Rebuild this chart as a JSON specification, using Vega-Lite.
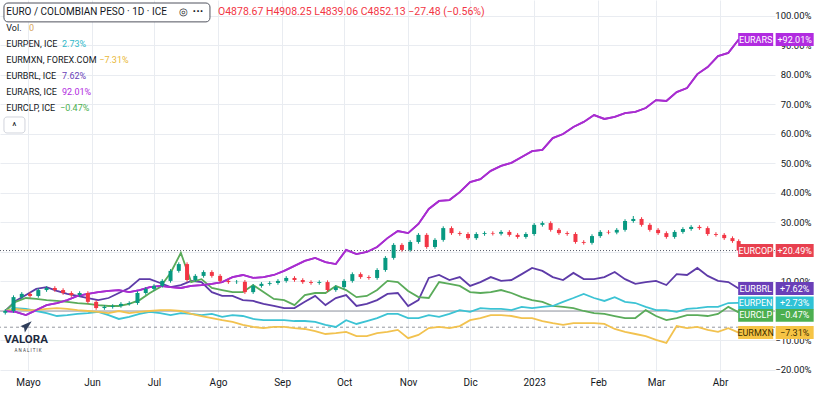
{
"$schema":"https://vega.github.io/schema/vega-lite/v6.json",
"width":775,"height":372,"autosize":{"type":"none"},"padding":{"left":0,"top":0,"right":42,"bottom":27},"background":"white",
"config":{"view":{"stroke":null},"font":"Roboto","axis":{"labelOverlap":false,"labelSeparation":0,"labelBound":false}},
"datasets":{
"ars":[{"d":"2022-04-20","v":0},{"d":"2022-04-25","v":-0.3},{"d":"2022-04-30","v":-1.4},{"d":"2022-05-05","v":0.3},{"d":"2022-05-10","v":2.0},{"d":"2022-05-15","v":2.7},{"d":"2022-05-20","v":3.7},{"d":"2022-05-25","v":5.1},{"d":"2022-05-30","v":5.8},{"d":"2022-06-04","v":6.4},{"d":"2022-06-09","v":6.8},{"d":"2022-06-14","v":7.1},{"d":"2022-06-19","v":6.4},{"d":"2022-06-24","v":7.1},{"d":"2022-06-29","v":8.1},{"d":"2022-07-04","v":8.5},{"d":"2022-07-09","v":8.1},{"d":"2022-07-14","v":7.8},{"d":"2022-07-19","v":8.5},{"d":"2022-07-24","v":8.8},{"d":"2022-07-29","v":9.2},{"d":"2022-08-03","v":9.8},{"d":"2022-08-08","v":11.5},{"d":"2022-08-13","v":12.2},{"d":"2022-08-18","v":11.2},{"d":"2022-08-23","v":11.5},{"d":"2022-08-28","v":12.2},{"d":"2022-09-02","v":13.6},{"d":"2022-09-07","v":15.3},{"d":"2022-09-12","v":17.0},{"d":"2022-09-17","v":18.0},{"d":"2022-09-22","v":16.6},{"d":"2022-09-27","v":15.9},{"d":"2022-10-02","v":20.7},{"d":"2022-10-07","v":19.3},{"d":"2022-10-12","v":20.0},{"d":"2022-10-17","v":21.7},{"d":"2022-10-22","v":24.7},{"d":"2022-10-27","v":27.1},{"d":"2022-11-01","v":26.4},{"d":"2022-11-06","v":29.5},{"d":"2022-11-11","v":34.6},{"d":"2022-11-16","v":37.3},{"d":"2022-11-21","v":37.6},{"d":"2022-11-26","v":40.3},{"d":"2022-12-01","v":43.7},{"d":"2022-12-06","v":44.7},{"d":"2022-12-11","v":47.5},{"d":"2022-12-16","v":49.2},{"d":"2022-12-21","v":50.2},{"d":"2022-12-26","v":52.2},{"d":"2022-12-31","v":54.2},{"d":"2023-01-05","v":54.6},{"d":"2023-01-10","v":58.6},{"d":"2023-01-15","v":60.0},{"d":"2023-01-20","v":62.4},{"d":"2023-01-25","v":64.1},{"d":"2023-01-30","v":66.4},{"d":"2023-02-04","v":65.1},{"d":"2023-02-09","v":65.8},{"d":"2023-02-14","v":67.1},{"d":"2023-02-19","v":67.5},{"d":"2023-02-24","v":68.8},{"d":"2023-03-01","v":71.5},{"d":"2023-03-06","v":71.2},{"d":"2023-03-11","v":74.2},{"d":"2023-03-16","v":75.6},{"d":"2023-03-21","v":80.3},{"d":"2023-03-26","v":82.7},{"d":"2023-03-31","v":86.4},{"d":"2023-04-05","v":87.5},{"d":"2023-04-10","v":92.01}],
"brl":[{"d":"2022-04-20","v":0},{"d":"2022-04-25","v":3.4},{"d":"2022-04-30","v":5.4},{"d":"2022-05-05","v":7.5},{"d":"2022-05-10","v":8.1},{"d":"2022-05-15","v":6.8},{"d":"2022-05-20","v":5.8},{"d":"2022-05-25","v":5.1},{"d":"2022-05-30","v":4.4},{"d":"2022-06-04","v":3.7},{"d":"2022-06-09","v":4.4},{"d":"2022-06-14","v":6.1},{"d":"2022-06-19","v":7.8},{"d":"2022-06-24","v":10.8},{"d":"2022-06-29","v":10.8},{"d":"2022-07-04","v":9.5},{"d":"2022-07-09","v":8.1},{"d":"2022-07-14","v":8.8},{"d":"2022-07-19","v":10.2},{"d":"2022-07-24","v":9.8},{"d":"2022-07-29","v":6.4},{"d":"2022-08-03","v":5.1},{"d":"2022-08-08","v":5.1},{"d":"2022-08-13","v":3.7},{"d":"2022-08-18","v":3.4},{"d":"2022-08-23","v":2.4},{"d":"2022-08-28","v":1.7},{"d":"2022-09-02","v":1.0},{"d":"2022-09-07","v":1.0},{"d":"2022-09-12","v":3.1},{"d":"2022-09-17","v":5.1},{"d":"2022-09-22","v":2.0},{"d":"2022-09-27","v":4.4},{"d":"2022-10-02","v":5.4},{"d":"2022-10-07","v":1.7},{"d":"2022-10-12","v":2.4},{"d":"2022-10-17","v":3.7},{"d":"2022-10-22","v":5.8},{"d":"2022-10-27","v":6.1},{"d":"2022-11-01","v":1.7},{"d":"2022-11-06","v":3.7},{"d":"2022-11-11","v":11.2},{"d":"2022-11-16","v":12.2},{"d":"2022-11-21","v":10.5},{"d":"2022-11-26","v":11.5},{"d":"2022-12-01","v":8.5},{"d":"2022-12-06","v":9.8},{"d":"2022-12-11","v":11.5},{"d":"2022-12-16","v":10.2},{"d":"2022-12-21","v":10.5},{"d":"2022-12-26","v":12.5},{"d":"2022-12-31","v":14.6},{"d":"2023-01-05","v":13.6},{"d":"2023-01-10","v":11.5},{"d":"2023-01-15","v":10.5},{"d":"2023-01-20","v":12.9},{"d":"2023-01-25","v":10.8},{"d":"2023-01-30","v":10.8},{"d":"2023-02-04","v":11.5},{"d":"2023-02-09","v":13.2},{"d":"2023-02-14","v":10.8},{"d":"2023-02-19","v":9.2},{"d":"2023-02-24","v":9.8},{"d":"2023-03-01","v":10.2},{"d":"2023-03-06","v":8.8},{"d":"2023-03-11","v":12.5},{"d":"2023-03-16","v":12.2},{"d":"2023-03-21","v":14.6},{"d":"2023-03-26","v":11.9},{"d":"2023-03-31","v":10.2},{"d":"2023-04-05","v":9.8},{"d":"2023-04-10","v":7.62}],
"clp":[{"d":"2022-04-20","v":0},{"d":"2022-04-25","v":3.1},{"d":"2022-04-30","v":4.4},{"d":"2022-05-05","v":4.1},{"d":"2022-05-10","v":3.7},{"d":"2022-05-15","v":3.4},{"d":"2022-05-20","v":3.1},{"d":"2022-05-25","v":2.7},{"d":"2022-05-30","v":2.4},{"d":"2022-06-04","v":2.0},{"d":"2022-06-09","v":1.7},{"d":"2022-06-14","v":1.7},{"d":"2022-06-19","v":2.4},{"d":"2022-06-24","v":3.7},{"d":"2022-06-29","v":6.1},{"d":"2022-07-04","v":8.1},{"d":"2022-07-09","v":12.9},{"d":"2022-07-14","v":19.7},{"d":"2022-07-19","v":9.8},{"d":"2022-07-24","v":10.8},{"d":"2022-07-29","v":7.8},{"d":"2022-08-03","v":7.1},{"d":"2022-08-08","v":6.4},{"d":"2022-08-13","v":6.4},{"d":"2022-08-18","v":8.8},{"d":"2022-08-23","v":6.4},{"d":"2022-08-28","v":4.1},{"d":"2022-09-02","v":3.7},{"d":"2022-09-07","v":2.0},{"d":"2022-09-12","v":5.4},{"d":"2022-09-17","v":6.1},{"d":"2022-09-22","v":6.1},{"d":"2022-09-27","v":8.5},{"d":"2022-10-02","v":7.1},{"d":"2022-10-07","v":4.7},{"d":"2022-10-12","v":5.1},{"d":"2022-10-17","v":7.1},{"d":"2022-10-22","v":10.2},{"d":"2022-10-27","v":9.8},{"d":"2022-11-01","v":6.8},{"d":"2022-11-06","v":4.7},{"d":"2022-11-11","v":4.4},{"d":"2022-11-16","v":9.8},{"d":"2022-11-21","v":9.2},{"d":"2022-11-26","v":8.5},{"d":"2022-12-01","v":6.4},{"d":"2022-12-06","v":6.1},{"d":"2022-12-11","v":6.4},{"d":"2022-12-16","v":7.1},{"d":"2022-12-21","v":6.1},{"d":"2022-12-26","v":4.7},{"d":"2022-12-31","v":3.7},{"d":"2023-01-05","v":3.1},{"d":"2023-01-10","v":1.7},{"d":"2023-01-15","v":1.4},{"d":"2023-01-20","v":1.0},{"d":"2023-01-25","v":0},{"d":"2023-01-30","v":-0.7},{"d":"2023-02-04","v":-1.0},{"d":"2023-02-09","v":-1.7},{"d":"2023-02-14","v":-2.4},{"d":"2023-02-19","v":-2.4},{"d":"2023-02-24","v":0.3},{"d":"2023-03-01","v":-1.7},{"d":"2023-03-06","v":-3.1},{"d":"2023-03-11","v":-2.4},{"d":"2023-03-16","v":-1.4},{"d":"2023-03-21","v":-1.4},{"d":"2023-03-26","v":-1.7},{"d":"2023-03-31","v":-1.0},{"d":"2023-04-05","v":1.4},{"d":"2023-04-10","v":-0.47}],
"pen":[{"d":"2022-04-20","v":0},{"d":"2022-04-25","v":1.0},{"d":"2022-04-30","v":0.7},{"d":"2022-05-05","v":0},{"d":"2022-05-10","v":-0.7},{"d":"2022-05-15","v":-1.7},{"d":"2022-05-20","v":-1.4},{"d":"2022-05-25","v":-1.0},{"d":"2022-05-30","v":-0.7},{"d":"2022-06-04","v":-0.3},{"d":"2022-06-09","v":-1.4},{"d":"2022-06-14","v":-2.7},{"d":"2022-06-19","v":-2.0},{"d":"2022-06-24","v":-1.0},{"d":"2022-06-29","v":-0.3},{"d":"2022-07-04","v":-0.7},{"d":"2022-07-09","v":-1.4},{"d":"2022-07-14","v":-0.7},{"d":"2022-07-19","v":-1.0},{"d":"2022-07-24","v":-1.4},{"d":"2022-07-29","v":-1.0},{"d":"2022-08-03","v":-2.0},{"d":"2022-08-08","v":-1.4},{"d":"2022-08-13","v":-1.7},{"d":"2022-08-18","v":-2.7},{"d":"2022-08-23","v":-3.1},{"d":"2022-08-28","v":-3.1},{"d":"2022-09-02","v":-3.1},{"d":"2022-09-07","v":-3.4},{"d":"2022-09-12","v":-3.4},{"d":"2022-09-17","v":-3.7},{"d":"2022-09-22","v":-4.7},{"d":"2022-09-27","v":-5.4},{"d":"2022-10-02","v":-3.1},{"d":"2022-10-07","v":-4.4},{"d":"2022-10-12","v":-3.4},{"d":"2022-10-17","v":-2.4},{"d":"2022-10-22","v":-1.0},{"d":"2022-10-27","v":-1.0},{"d":"2022-11-01","v":-2.4},{"d":"2022-11-06","v":-2.4},{"d":"2022-11-11","v":-1.4},{"d":"2022-11-16","v":-2.0},{"d":"2022-11-21","v":-1.0},{"d":"2022-11-26","v":0.3},{"d":"2022-12-01","v":-0.3},{"d":"2022-12-06","v":1.0},{"d":"2022-12-11","v":0.7},{"d":"2022-12-16","v":0.7},{"d":"2022-12-21","v":0.3},{"d":"2022-12-26","v":1.4},{"d":"2022-12-31","v":1.0},{"d":"2023-01-05","v":1.4},{"d":"2023-01-10","v":1.7},{"d":"2023-01-15","v":3.1},{"d":"2023-01-20","v":4.4},{"d":"2023-01-25","v":5.8},{"d":"2023-01-30","v":4.4},{"d":"2023-02-04","v":3.4},{"d":"2023-02-09","v":4.7},{"d":"2023-02-14","v":3.1},{"d":"2023-02-19","v":2.7},{"d":"2023-02-24","v":1.4},{"d":"2023-03-01","v":0.3},{"d":"2023-03-06","v":0.3},{"d":"2023-03-11","v":-0.3},{"d":"2023-03-16","v":0.7},{"d":"2023-03-21","v":1.0},{"d":"2023-03-26","v":1.4},{"d":"2023-03-31","v":1.4},{"d":"2023-04-05","v":2.7},{"d":"2023-04-10","v":2.73}],
"mxn":[{"d":"2022-04-20","v":0},{"d":"2022-04-25","v":0.7},{"d":"2022-04-30","v":0.3},{"d":"2022-05-05","v":0.3},{"d":"2022-05-10","v":0.7},{"d":"2022-05-15","v":1.0},{"d":"2022-05-20","v":0.7},{"d":"2022-05-25","v":0.3},{"d":"2022-05-30","v":0},{"d":"2022-06-04","v":-0.3},{"d":"2022-06-09","v":-0.7},{"d":"2022-06-14","v":0},{"d":"2022-06-19","v":-0.7},{"d":"2022-06-24","v":-0.3},{"d":"2022-06-29","v":0},{"d":"2022-07-04","v":0.3},{"d":"2022-07-09","v":0.3},{"d":"2022-07-14","v":0},{"d":"2022-07-19","v":-1.0},{"d":"2022-07-24","v":-1.7},{"d":"2022-07-29","v":-2.4},{"d":"2022-08-03","v":-3.1},{"d":"2022-08-08","v":-3.7},{"d":"2022-08-13","v":-4.7},{"d":"2022-08-18","v":-5.4},{"d":"2022-08-23","v":-5.8},{"d":"2022-08-28","v":-5.4},{"d":"2022-09-02","v":-5.4},{"d":"2022-09-07","v":-5.8},{"d":"2022-09-12","v":-6.1},{"d":"2022-09-17","v":-6.8},{"d":"2022-09-22","v":-7.8},{"d":"2022-09-27","v":-7.5},{"d":"2022-10-02","v":-7.1},{"d":"2022-10-07","v":-8.5},{"d":"2022-10-12","v":-8.5},{"d":"2022-10-17","v":-7.5},{"d":"2022-10-22","v":-7.1},{"d":"2022-10-27","v":-6.4},{"d":"2022-11-01","v":-9.2},{"d":"2022-11-06","v":-8.1},{"d":"2022-11-11","v":-5.8},{"d":"2022-11-16","v":-5.4},{"d":"2022-11-21","v":-5.8},{"d":"2022-11-26","v":-5.1},{"d":"2022-12-01","v":-3.1},{"d":"2022-12-06","v":-2.4},{"d":"2022-12-11","v":-1.4},{"d":"2022-12-16","v":-1.4},{"d":"2022-12-21","v":-1.7},{"d":"2022-12-26","v":-2.4},{"d":"2022-12-31","v":-2.4},{"d":"2023-01-05","v":-3.4},{"d":"2023-01-10","v":-4.1},{"d":"2023-01-15","v":-4.7},{"d":"2023-01-20","v":-4.1},{"d":"2023-01-25","v":-4.1},{"d":"2023-01-30","v":-4.1},{"d":"2023-02-04","v":-4.4},{"d":"2023-02-09","v":-6.1},{"d":"2023-02-14","v":-7.1},{"d":"2023-02-19","v":-7.8},{"d":"2023-02-24","v":-8.5},{"d":"2023-03-01","v":-9.8},{"d":"2023-03-06","v":-10.8},{"d":"2023-03-11","v":-5.1},{"d":"2023-03-16","v":-5.8},{"d":"2023-03-21","v":-5.4},{"d":"2023-03-26","v":-6.4},{"d":"2023-03-31","v":-7.1},{"d":"2023-04-05","v":-5.8},{"d":"2023-04-10","v":-7.31}],
"cop":[{"d":"2022-04-20","o":-0.6,"h":0.6,"l":-1.2,"c":0},{"d":"2022-04-24","o":0,"h":5.3,"l":-0.6,"c":4.7},{"d":"2022-04-28","o":4.7,"h":6.4,"l":4.1,"c":5.8},{"d":"2022-05-02","o":5.8,"h":6.4,"l":4.5,"c":5.1},{"d":"2022-05-06","o":5.1,"h":7.7,"l":4.5,"c":7.1},{"d":"2022-05-10","o":7.1,"h":8.4,"l":6.5,"c":7.8},{"d":"2022-05-14","o":7.8,"h":8.4,"l":6.5,"c":7.1},{"d":"2022-05-18","o":7.1,"h":7.7,"l":5.5,"c":6.1},{"d":"2022-05-22","o":6.1,"h":6.7,"l":4.8,"c":5.4},{"d":"2022-05-26","o":5.4,"h":6.7,"l":4.8,"c":6.1},{"d":"2022-05-30","o":6.1,"h":6.7,"l":2.5,"c":3.1},{"d":"2022-06-03","o":3.1,"h":3.7,"l":0.4,"c":1.0},{"d":"2022-06-07","o":1.0,"h":2.0,"l":0.4,"c":1.4},{"d":"2022-06-11","o":1.4,"h":2.3,"l":0.8,"c":1.7},{"d":"2022-06-15","o":1.7,"h":3.0,"l":1.1,"c":2.4},{"d":"2022-06-19","o":2.4,"h":3.3,"l":1.8,"c":2.7},{"d":"2022-06-23","o":2.7,"h":6.7,"l":2.1,"c":6.1},{"d":"2022-06-27","o":6.1,"h":8.1,"l":5.5,"c":7.5},{"d":"2022-07-01","o":7.5,"h":9.1,"l":6.9,"c":8.5},{"d":"2022-07-05","o":8.5,"h":10.8,"l":7.9,"c":10.2},{"d":"2022-07-09","o":10.2,"h":14.2,"l":9.6,"c":13.6},{"d":"2022-07-13","o":13.6,"h":16.5,"l":13.0,"c":15.9},{"d":"2022-07-17","o":15.9,"h":16.5,"l":9.9,"c":10.5},{"d":"2022-07-21","o":10.5,"h":12.5,"l":9.9,"c":11.9},{"d":"2022-07-25","o":11.9,"h":13.8,"l":11.3,"c":13.2},{"d":"2022-07-29","o":13.2,"h":13.8,"l":11.3,"c":11.9},{"d":"2022-08-02","o":11.9,"h":12.5,"l":9.6,"c":10.2},{"d":"2022-08-06","o":10.2,"h":10.8,"l":9.2,"c":9.8},{"d":"2022-08-10","o":9.8,"h":10.5,"l":9.2,"c":9.9},{"d":"2022-08-14","o":9.9,"h":10.5,"l":5.8,"c":6.4},{"d":"2022-08-18","o":6.4,"h":9.1,"l":5.8,"c":8.5},{"d":"2022-08-22","o":8.5,"h":9.8,"l":7.9,"c":9.2},{"d":"2022-08-26","o":9.2,"h":10.1,"l":8.6,"c":9.5},{"d":"2022-08-30","o":9.5,"h":10.8,"l":8.9,"c":10.2},{"d":"2022-09-03","o":10.2,"h":11.8,"l":9.6,"c":11.2},{"d":"2022-09-07","o":11.2,"h":11.8,"l":9.9,"c":10.5},{"d":"2022-09-11","o":10.5,"h":11.1,"l":9.2,"c":9.8},{"d":"2022-09-15","o":9.8,"h":10.4,"l":8.9,"c":9.5},{"d":"2022-09-19","o":9.5,"h":10.4,"l":8.9,"c":9.8},{"d":"2022-09-23","o":9.8,"h":10.4,"l":6.5,"c":7.1},{"d":"2022-09-27","o":7.1,"h":8.7,"l":6.5,"c":8.1},{"d":"2022-10-01","o":8.1,"h":10.8,"l":7.5,"c":10.2},{"d":"2022-10-05","o":10.2,"h":13.1,"l":9.6,"c":12.5},{"d":"2022-10-09","o":12.5,"h":13.1,"l":10.9,"c":11.5},{"d":"2022-10-13","o":11.5,"h":12.1,"l":10.6,"c":11.2},{"d":"2022-10-17","o":11.2,"h":14.5,"l":10.6,"c":13.9},{"d":"2022-10-21","o":13.9,"h":18.6,"l":13.3,"c":18.0},{"d":"2022-10-25","o":18.0,"h":23.0,"l":17.4,"c":22.4},{"d":"2022-10-29","o":22.4,"h":23.0,"l":20.1,"c":20.7},{"d":"2022-11-02","o":20.7,"h":24.0,"l":20.1,"c":23.4},{"d":"2022-11-06","o":23.4,"h":26.4,"l":22.8,"c":25.8},{"d":"2022-11-10","o":25.8,"h":26.4,"l":21.1,"c":21.7},{"d":"2022-11-14","o":21.7,"h":24.7,"l":21.1,"c":24.1},{"d":"2022-11-18","o":24.1,"h":28.7,"l":23.5,"c":28.1},{"d":"2022-11-22","o":28.1,"h":28.7,"l":25.8,"c":26.4},{"d":"2022-11-26","o":26.4,"h":27.0,"l":25.5,"c":26.1},{"d":"2022-11-30","o":26.1,"h":26.7,"l":24.1,"c":24.7},{"d":"2022-12-04","o":24.7,"h":26.7,"l":24.1,"c":26.1},{"d":"2022-12-08","o":26.1,"h":27.0,"l":25.5,"c":26.4},{"d":"2022-12-12","o":26.4,"h":27.0,"l":25.6,"c":26.2},{"d":"2022-12-16","o":26.2,"h":27.4,"l":25.6,"c":26.8},{"d":"2022-12-20","o":26.8,"h":27.4,"l":25.2,"c":25.8},{"d":"2022-12-24","o":25.8,"h":26.4,"l":24.5,"c":25.1},{"d":"2022-12-28","o":25.1,"h":26.7,"l":24.5,"c":26.1},{"d":"2023-01-01","o":26.1,"h":29.8,"l":25.5,"c":29.2},{"d":"2023-01-05","o":29.2,"h":30.4,"l":28.6,"c":29.8},{"d":"2023-01-09","o":29.8,"h":30.4,"l":26.9,"c":27.5},{"d":"2023-01-13","o":27.5,"h":28.1,"l":25.8,"c":26.4},{"d":"2023-01-17","o":26.4,"h":27.0,"l":25.5,"c":26.1},{"d":"2023-01-21","o":26.1,"h":26.7,"l":22.8,"c":23.4},{"d":"2023-01-25","o":23.4,"h":24.0,"l":22.5,"c":23.1},{"d":"2023-01-29","o":23.1,"h":26.0,"l":22.5,"c":25.4},{"d":"2023-02-02","o":25.4,"h":27.4,"l":24.8,"c":26.8},{"d":"2023-02-06","o":26.8,"h":27.4,"l":26.0,"c":26.6},{"d":"2023-02-10","o":26.6,"h":28.1,"l":26.0,"c":27.5},{"d":"2023-02-14","o":27.5,"h":31.1,"l":26.9,"c":30.5},{"d":"2023-02-18","o":30.5,"h":32.2,"l":29.9,"c":31.2},{"d":"2023-02-22","o":31.2,"h":31.8,"l":28.6,"c":29.2},{"d":"2023-02-26","o":29.2,"h":29.8,"l":26.9,"c":27.5},{"d":"2023-03-02","o":27.5,"h":28.1,"l":25.8,"c":26.4},{"d":"2023-03-06","o":26.4,"h":27.0,"l":24.5,"c":25.1},{"d":"2023-03-10","o":25.1,"h":27.4,"l":24.5,"c":26.8},{"d":"2023-03-14","o":26.8,"h":28.4,"l":26.2,"c":27.8},{"d":"2023-03-18","o":27.8,"h":29.1,"l":27.2,"c":28.5},{"d":"2023-03-22","o":28.5,"h":29.1,"l":27.5,"c":28.1},{"d":"2023-03-26","o":28.1,"h":28.7,"l":25.5,"c":26.1},{"d":"2023-03-30","o":26.1,"h":26.7,"l":25.2,"c":25.8},{"d":"2023-04-03","o":25.8,"h":26.4,"l":24.1,"c":24.7},{"d":"2023-04-07","o":24.7,"h":25.3,"l":23.1,"c":23.7},{"d":"2023-04-10","o":23.7,"h":24.3,"l":19.9,"c":20.49}],
"ends":[{"s":"EURARS","d":"2023-04-10","v":92.01,"t":"+92.01%"},{"s":"EURCOP","d":"2023-04-10","v":20.49,"t":"+20.49%"},{"s":"EURBRL","d":"2023-04-10","v":7.62,"t":"+7.62%"},{"s":"EURPEN","d":"2023-04-10","v":2.73,"t":"+2.73%"},{"s":"EURCLP","d":"2023-04-10","v":-0.47,"t":"\u22120.47%"},{"s":"EURMXN","d":"2023-04-10","v":-7.31,"t":"\u22127.31%"}]
},
"layer":[
{"data":{"name":"ars"},"mark":{"type":"line","color":"#a82dd0","strokeWidth":1.8},
 "encoding":{
  "x":{"field":"d","type":"temporal","title":null,"scale":{"type":"utc","padding":0,"domain":[{"year":2022,"month":4,"date":17,"hours":11,"utc":true},{"year":2023,"month":4,"date":27,"hours":14,"utc":true}]},
   "axis":{"orient":"bottom","tickCount":{"interval":"month","step":1},"labelExpr":"utcmonth(datum.value) == 0 ? utcFormat(datum.value, '%Y') : ['Ene','Feb','Mar','Abr','Mayo','Jun','Jul','Ago','Sep','Oct','Nov','Dic'][utcmonth(datum.value)]","grid":true,"gridColor":"#e9ecf1","domain":false,"ticks":false,"labelColor":"#131722","labelFontSize":10,"labelPadding":5,"labelFlush":false,"labelOverlap":false}},
  "y":{"field":"v","type":"quantitative","title":null,"scale":{"domain":[-20.68,105.42],"nice":false,"zero":false},
   "axis":{"orient":"right","values":[-20,-10,0,10,20,30,40,50,60,70,80,90,100],"tickCount":13,"labelExpr":"format(datum.value, '.2f') + '%'","grid":true,"gridColor":"#e9ecf1","domain":false,"ticks":false,"labelAlign":"right","labelBaseline":"middle","labelPadding":36,"labelColor":"#131722","labelFontSize":9.5,"labelOverlap":false,"labelFlush":false}}}},
{"data":{"values":[{"v":0}]},"mark":{"type":"rule","color":"#9598a1","strokeWidth":1},"encoding":{"y":{"field":"v","type":"quantitative","title":null}}},
{"data":{"values":[{"v":-5.5}]},"mark":{"type":"rule","color":"#9598a1","strokeWidth":1,"strokeDash":[3,3]},"encoding":{"y":{"field":"v","type":"quantitative","title":null}}},
{"data":{"values":[{"v":20.49}]},"mark":{"type":"rule","color":"#555a66","strokeWidth":1,"strokeDash":[1,2]},"encoding":{"y":{"field":"v","type":"quantitative","title":null}}},
{"data":{"name":"brl"},"mark":{"type":"line","color":"#5e3ba8","strokeWidth":1.8},"encoding":{"x":{"field":"d","type":"temporal","title":null},"y":{"field":"v","type":"quantitative","title":null}}},
{"data":{"name":"clp"},"mark":{"type":"line","color":"#5aab5a","strokeWidth":1.8},"encoding":{"x":{"field":"d","type":"temporal","title":null},"y":{"field":"v","type":"quantitative","title":null}}},
{"data":{"name":"pen"},"mark":{"type":"line","color":"#3cc3d4","strokeWidth":1.8},"encoding":{"x":{"field":"d","type":"temporal","title":null},"y":{"field":"v","type":"quantitative","title":null}}},
{"data":{"name":"mxn"},"mark":{"type":"line","color":"#f2c24f","strokeWidth":1.8},"encoding":{"x":{"field":"d","type":"temporal","title":null},"y":{"field":"v","type":"quantitative","title":null}}},
{"data":{"name":"ars"},"mark":{"type":"line","color":"#a82dd0","strokeWidth":1.8},"encoding":{"x":{"field":"d","type":"temporal","title":null},"y":{"field":"v","type":"quantitative","title":null}}},
{"data":{"name":"cop"},"mark":{"type":"rule","strokeWidth":1},"encoding":{"x":{"field":"d","type":"temporal","title":null},"y":{"field":"l","type":"quantitative","title":null},"y2":{"field":"h"},"color":{"condition":{"test":"datum.c >= datum.o","value":"#089981"},"value":"#f23645"}}},
{"data":{"name":"cop"},"mark":{"type":"bar","width":4},"encoding":{"x":{"field":"d","type":"temporal","title":null},"y":{"field":"o","type":"quantitative","title":null},"y2":{"field":"c"},"color":{"condition":{"test":"datum.c >= datum.o","value":"#089981"},"value":"#f23645"}}},
{"data":{"name":"ends"},"mark":{"type":"point","shape":"M-1,-0.37H1V0.37H-1Z","filled":true,"opacity":1,"size":1225,"xOffset":17,"yOffset":{"expr":"datum.s === 'EURCLP' ? 3 : 0"}},"encoding":{"x":{"field":"d","type":"temporal","title":null},"y":{"field":"v","type":"quantitative","title":null},"color":{"field":"s","type":"nominal","legend":null,"scale":{"domain":["EURARS","EURCOP","EURBRL","EURPEN","EURCLP","EURMXN"],"range":["#b12be0","#e8404f","#6a3fb8","#2fc2d6","#4caf50","#f6c445"]}}}},
{"data":{"name":"ends"},"mark":{"type":"point","shape":"M-1,-0.34H1V0.34H-1Z","filled":true,"opacity":1,"size":1444,"xOffset":56,"yOffset":{"expr":"datum.s === 'EURCLP' ? 3 : 0"}},"encoding":{"x":{"field":"d","type":"temporal","title":null},"y":{"field":"v","type":"quantitative","title":null},"color":{"field":"s","type":"nominal","legend":null}}},
{"data":{"name":"ends"},"mark":{"type":"text","align":"center","baseline":"middle","fontSize":9,"xOffset":17,"yOffset":{"expr":"datum.s === 'EURCLP' ? 3 : 0"}},"encoding":{"x":{"field":"d","type":"temporal","title":null},"y":{"field":"v","type":"quantitative","title":null},"text":{"field":"s"},"color":{"condition":{"test":"datum.s === 'EURMXN'","value":"#3d3000"},"value":"white"}}},
{"data":{"name":"ends"},"mark":{"type":"text","align":"center","baseline":"middle","fontSize":9,"xOffset":56,"yOffset":{"expr":"datum.s === 'EURCLP' ? 3 : 0"}},"encoding":{"x":{"field":"d","type":"temporal","title":null},"y":{"field":"v","type":"quantitative","title":null},"text":{"field":"t"},"color":{"condition":{"test":"datum.s === 'EURMXN'","value":"#3d3000"},"value":"white"}}},
{"data":{"values":[{}]},"mark":{"type":"rect","fill":"white","stroke":"#50535e","strokeWidth":1,"cornerRadius":4},"encoding":{"x":{"datum":{"year":2022,"month":4,"date":19,"hours":9,"utc":true},"type":"temporal"},"x2":{"datum":{"year":2022,"month":7,"date":28,"hours":2,"utc":true}},"y":{"datum":104.4,"type":"quantitative"},"y2":{"datum":98.0}}},
{"data":{"values":[{"t":"EURO / COLOMBIAN PESO \u00b7 1D \u00b7 ICE"}]},"mark":{"type":"text","align":"left","baseline":"middle","fontSize":10,"color":"#131722"},"encoding":{"x":{"datum":{"year":2022,"month":4,"date":20,"hours":12,"utc":true},"type":"temporal"},"y":{"datum":101.3,"type":"quantitative"},"text":{"field":"t"}}},
{"data":{"values":[{"t":"\u25ce"}]},"mark":{"type":"text","align":"center","baseline":"middle","fontSize":10,"color":"#131722"},"encoding":{"x":{"datum":{"year":2022,"month":7,"date":15,"hours":12,"utc":true},"type":"temporal"},"y":{"datum":101.3,"type":"quantitative"},"text":{"field":"t"}}},
{"data":{"values":[{"t":"\u00b7\u00b7\u00b7"}]},"mark":{"type":"text","align":"center","baseline":"middle","fontSize":12,"fontWeight":"bold","color":"#131722"},"encoding":{"x":{"datum":{"year":2022,"month":7,"date":22,"hours":7,"utc":true},"type":"temporal"},"y":{"datum":101.3,"type":"quantitative"},"text":{"field":"t"}}},
{"data":{"values":[{"t":"O4878.67 H4908.25 L4839.06 C4852.13 \u221227.48 (\u22120.56%)"}]},"mark":{"type":"text","align":"left","baseline":"middle","fontSize":10.5,"color":"#f23645"},"encoding":{"x":{"datum":{"year":2022,"month":7,"date":31,"hours":23,"utc":true},"type":"temporal"},"y":{"datum":101.3,"type":"quantitative"},"text":{"field":"t"}}},
{"data":{"values":[{"t":"Vol."}]},"mark":{"type":"text","align":"left","baseline":"middle","fontSize":9,"color":"#131722"},"encoding":{"x":{"datum":{"year":2022,"month":4,"date":20,"hours":12,"utc":true},"type":"temporal"},"y":{"datum":95.93,"type":"quantitative"},"text":{"field":"t"}}},
{"data":{"values":[{"t":"0"}]},"mark":{"type":"text","align":"left","baseline":"middle","fontSize":9,"color":"#d6a55c"},"encoding":{"x":{"datum":{"year":2022,"month":5,"date":1,"hours":11,"utc":true},"type":"temporal"},"y":{"datum":95.93,"type":"quantitative"},"text":{"field":"t"}}},
{"data":{"values":[{"t":"EURPEN, ICE"}]},"mark":{"type":"text","align":"left","baseline":"middle","fontSize":9,"color":"#131722"},"encoding":{"x":{"datum":{"year":2022,"month":4,"date":20,"hours":12,"utc":true},"type":"temporal"},"y":{"datum":90.51,"type":"quantitative"},"text":{"field":"t"}}},
{"data":{"values":[{"t":"2.73%"}]},"mark":{"type":"text","align":"left","baseline":"middle","fontSize":9,"color":"#2fb8c9"},"encoding":{"x":{"datum":{"year":2022,"month":5,"date":17,"hours":11,"utc":true},"type":"temporal"},"y":{"datum":90.51,"type":"quantitative"},"text":{"field":"t"}}},
{"data":{"values":[{"t":"EURMXN, FOREX.COM"}]},"mark":{"type":"text","align":"left","baseline":"middle","fontSize":9,"color":"#131722"},"encoding":{"x":{"datum":{"year":2022,"month":4,"date":20,"hours":12,"utc":true},"type":"temporal"},"y":{"datum":85.08,"type":"quantitative"},"text":{"field":"t"}}},
{"data":{"values":[{"t":"\u22127.31%"}]},"mark":{"type":"text","align":"left","baseline":"middle","fontSize":9,"color":"#e9b838"},"encoding":{"x":{"datum":{"year":2022,"month":6,"date":4,"hours":12,"utc":true},"type":"temporal"},"y":{"datum":85.08,"type":"quantitative"},"text":{"field":"t"}}},
{"data":{"values":[{"t":"EURBRL, ICE"}]},"mark":{"type":"text","align":"left","baseline":"middle","fontSize":9,"color":"#131722"},"encoding":{"x":{"datum":{"year":2022,"month":4,"date":20,"hours":12,"utc":true},"type":"temporal"},"y":{"datum":79.66,"type":"quantitative"},"text":{"field":"t"}}},
{"data":{"values":[{"t":"7.62%"}]},"mark":{"type":"text","align":"left","baseline":"middle","fontSize":9,"color":"#6a3fb8"},"encoding":{"x":{"datum":{"year":2022,"month":5,"date":17,"hours":11,"utc":true},"type":"temporal"},"y":{"datum":79.66,"type":"quantitative"},"text":{"field":"t"}}},
{"data":{"values":[{"t":"EURARS, ICE"}]},"mark":{"type":"text","align":"left","baseline":"middle","fontSize":9,"color":"#131722"},"encoding":{"x":{"datum":{"year":2022,"month":4,"date":20,"hours":12,"utc":true},"type":"temporal"},"y":{"datum":74.24,"type":"quantitative"},"text":{"field":"t"}}},
{"data":{"values":[{"t":"92.01%"}]},"mark":{"type":"text","align":"left","baseline":"middle","fontSize":9,"color":"#b12be0"},"encoding":{"x":{"datum":{"year":2022,"month":5,"date":17,"hours":11,"utc":true},"type":"temporal"},"y":{"datum":74.24,"type":"quantitative"},"text":{"field":"t"}}},
{"data":{"values":[{"t":"EURCLP, ICE"}]},"mark":{"type":"text","align":"left","baseline":"middle","fontSize":9,"color":"#131722"},"encoding":{"x":{"datum":{"year":2022,"month":4,"date":20,"hours":12,"utc":true},"type":"temporal"},"y":{"datum":68.81,"type":"quantitative"},"text":{"field":"t"}}},
{"data":{"values":[{"t":"\u22120.47%"}]},"mark":{"type":"text","align":"left","baseline":"middle","fontSize":9,"color":"#4caf50"},"encoding":{"x":{"datum":{"year":2022,"month":5,"date":16,"hours":12,"utc":true},"type":"temporal"},"y":{"datum":68.81,"type":"quantitative"},"text":{"field":"t"}}},
{"data":{"values":[{}]},"mark":{"type":"rect","fill":"white","stroke":"#d1d4dc","strokeWidth":1,"cornerRadius":3},"encoding":{"x":{"datum":{"year":2022,"month":4,"date":19,"hours":9,"utc":true},"type":"temporal"},"x2":{"datum":{"year":2022,"month":4,"date":29,"hours":13,"utc":true}},"y":{"datum":65.76,"type":"quantitative"},"y2":{"datum":60.34}}},
{"data":{"values":[{"t":"^"}]},"mark":{"type":"text","align":"center","baseline":"middle","fontSize":10,"color":"#131722"},"encoding":{"x":{"datum":{"year":2022,"month":4,"date":24,"hours":11,"utc":true},"type":"temporal"},"y":{"datum":62.5,"type":"quantitative"},"text":{"field":"t"}}},
{"data":{"values":[{"t":"logo"}]},"mark":{"type":"point","shape":"M1,-1L-0.2,1L-0.35,0.1L-1,-0.1Z","filled":true,"opacity":1,"size":130,"color":"#2f3e5a"},"encoding":{"x":{"datum":{"year":2022,"month":4,"date":30,"hours":1,"utc":true},"type":"temporal"},"y":{"datum":-5.4,"type":"quantitative"}}},
{"data":{"values":[{"t":"VALORA"}]},"mark":{"type":"text","align":"center","baseline":"middle","fontSize":11.5,"fontWeight":"bold","color":"#1e2a3e"},"encoding":{"x":{"datum":{"year":2022,"month":4,"date":30,"hours":1,"utc":true},"type":"temporal"},"y":{"datum":-9.9,"type":"quantitative"},"text":{"field":"t"}}},
{"data":{"values":[{"t":"A N A L I T I K"}]},"mark":{"type":"text","align":"center","baseline":"middle","fontSize":4.5,"color":"#444"},"encoding":{"x":{"datum":{"year":2022,"month":5,"date":1,"hours":1,"utc":true},"type":"temporal"},"y":{"datum":-13.4,"type":"quantitative"},"text":{"field":"t"}}}
]
}
